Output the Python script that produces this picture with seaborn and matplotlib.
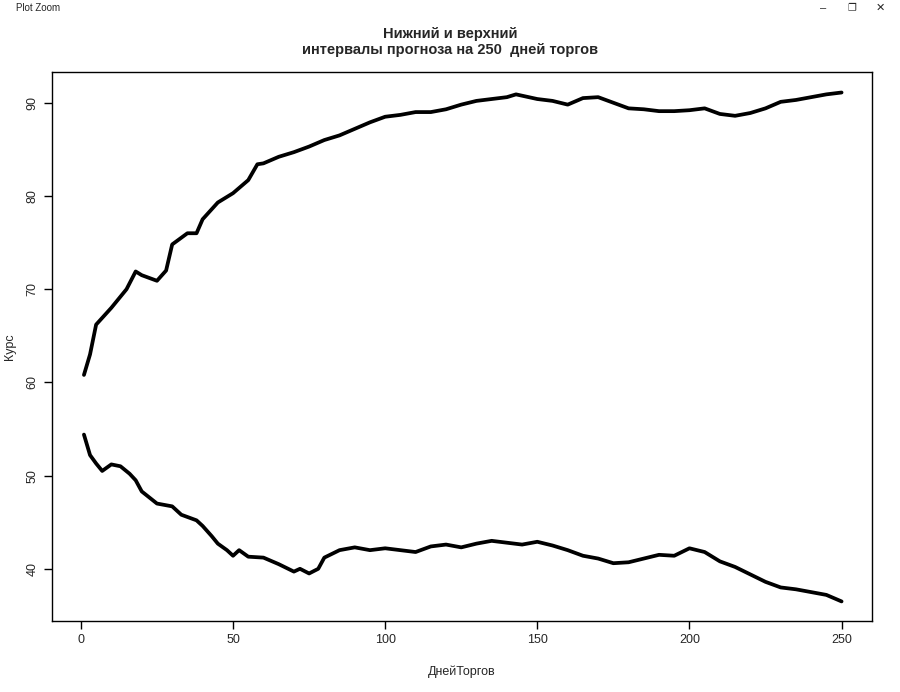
import matplotlib
matplotlib.use("Agg")
import matplotlib.pyplot as plt
import seaborn as sns
import pandas as pd

upper_days = [1,3,5,10,15,18,20,25,28,30,35,38,40,45,50,55,58,60,65,70,75,80,85,90,95,100,105,110,115,120,125,130,135,140,143,150,155,160,165,170,175,180,185,190,195,200,205,210,215,220,225,230,235,240,245,250]
upper_vals = [60.8,63,66.2,68,70,71.9,71.5,70.9,72,74.8,76,76,77.5,79.3,80.3,81.7,83.4,83.5,84.2,84.7,85.3,86,86.5,87.2,87.9,88.5,88.7,89,89,89.3,89.8,90.2,90.4,90.6,90.9,90.4,90.2,89.8,90.5,90.6,90,89.4,89.3,89.1,89.1,89.2,89.4,88.8,88.6,88.9,89.4,90.1,90.3,90.6,90.9,91.1]
lower_days = [1,3,5,7,10,13,16,18,20,25,30,33,38,40,43,45,48,50,52,55,60,65,70,72,75,78,80,85,90,95,100,105,110,115,120,125,130,135,140,145,150,155,160,165,170,175,180,185,190,195,200,205,210,215,220,225,230,235,240,245,250]
lower_vals = [54.4,52.2,51.3,50.5,51.2,51,50.2,49.5,48.3,47,46.7,45.8,45.2,44.6,43.5,42.7,42,41.4,42,41.3,41.2,40.5,39.7,40,39.5,40,41.2,42,42.3,42,42.2,42,41.8,42.4,42.6,42.3,42.7,43,42.8,42.6,42.9,42.5,42,41.4,41.1,40.6,40.7,41.1,41.5,41.4,42.2,41.8,40.8,40.2,39.4,38.6,38,37.8,37.5,37.2,36.5]

sns.set_style("white")
plt.rcParams['font.family'] = ['Liberation Sans', 'DejaVu Sans']

fig = plt.figure(figsize=(9, 6.92), dpi=100)
ax = fig.add_axes([52/900, 1-621/692, 820/900, 549/692])
du = pd.DataFrame({"d": upper_days, "v": upper_vals})
dl = pd.DataFrame({"d": lower_days, "v": lower_vals})
sns.lineplot(data=du, x="d", y="v", ax=ax, color="black", lw=2.7)
sns.lineplot(data=dl, x="d", y="v", ax=ax, color="black", lw=2.7)
ax.set_xlim(-9.5, 260)
ax.set_ylim(34.4, 93.3)
ax.set_xticks([0,50,100,150,200,250])
ax.set_yticks([40,50,60,70,80,90])
ax.tick_params(direction="out", length=6, width=1, labelsize=9, left=True, bottom=True, color="black")
for lab in ax.get_yticklabels():
    lab.set_rotation(90); lab.set_va("center")
for s in ax.spines.values():
    s.set_color("black"); s.set_linewidth(1)
ax.set_xlabel("ДнейТоргов", fontsize=9, labelpad=14)
ax.set_ylabel("Курс", fontsize=9)
ax.yaxis.set_label_coords(-36/820, 0.5)
fig.text(0.5, 1-42/692, "Нижний и верхний\nинтервалы прогноза на 250  дней торгов",
         ha="center", va="center", fontsize=10.5, fontweight="bold")
fig.text(16/900, 1-8/692, "Plot Zoom", fontsize=7, va="center")
fig.text(820/900, 1-8/692, "–", fontsize=8, va="center")
fig.text(847/900, 1-8/692, "❐", fontsize=7, va="center", family=['DejaVu Sans'])
fig.text(876/900, 1-8/692, "✕", fontsize=8, va="center", family=['DejaVu Sans'])
fig.savefig("out.png", dpi=100)
